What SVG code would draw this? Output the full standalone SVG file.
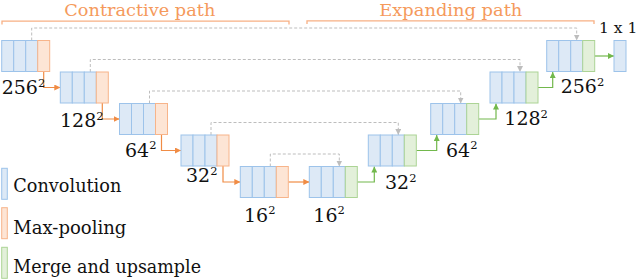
<svg xmlns="http://www.w3.org/2000/svg" width="640" height="280" viewBox="0 0 640 280">
<defs>
<style>
.b{fill:#dde9f6;stroke:#9dc3ea;stroke-width:1}
.o{fill:#fde5d5;stroke:#f7b48a;stroke-width:1}
.g{fill:#e3f0da;stroke:#acd495;stroke-width:1}
text{font-family:'DejaVu Serif','Liberation Serif',serif}
.t{font-size:19px;fill:#111}
.l{font-size:19px;fill:#111}
.s{font-size:11.5px}
.ti{font-size:17px;fill:#f59a5c}
.br{fill:none;stroke:#f7b084;stroke-width:1.3}
.ao{fill:none;stroke:#f08c45;stroke-width:1.2;marker-end:url(#mo)}
.ag{fill:none;stroke:#72b84c;stroke-width:1.2;marker-end:url(#mg)}
.ad{fill:none;stroke:#bdbdbd;stroke-width:1;stroke-dasharray:3 2;marker-end:url(#md)}
</style>
<marker id="mo" viewBox="0 0 6 6" refX="6" refY="3" markerWidth="6" markerHeight="6" markerUnits="userSpaceOnUse" orient="auto"><path d="M0,0 L6,3 L0,6 Z" fill="#f08c45"/></marker>
<marker id="mg" viewBox="0 0 6 6" refX="6" refY="3" markerWidth="6" markerHeight="6" markerUnits="userSpaceOnUse" orient="auto"><path d="M0,0 L6,3 L0,6 Z" fill="#72b84c"/></marker>
<marker id="md" viewBox="0 0 6 6" refX="6" refY="3" markerWidth="6" markerHeight="6" markerUnits="userSpaceOnUse" orient="auto"><path d="M0,0 L6,3 L0,6 Z" fill="#bdbdbd"/></marker>
</defs>

<g id="titles">
<text class="ti" x="64.3" y="16" textLength="151" lengthAdjust="spacingAndGlyphs">Contractive path</text>
<path class="br" d="M2,24.5 V21.2 H289 V24.5"/>
<text class="ti" x="379.3" y="16" textLength="143" lengthAdjust="spacingAndGlyphs">Expanding path</text>
<path class="br" d="M307,24 V20.8 H594 V24"/>
</g>

<g id="connectors">
<path class="ad" d="M31.7,40.5 V28 H576.7 V40.5"/>
<path class="ad" d="M90.3,72 V59.5 H520 V72"/>
<path class="ad" d="M149.5,103.5 V91 H460.7 V103.5"/>
<path class="ad" d="M211,135 V122.5 H398.3 V135"/>
<path class="ad" d="M270.3,166.5 V154 H339.3 V166.5"/>
<path class="ao" d="M43.7,71.5 V87.5 H60.3"/>
<path class="ao" d="M102.3,103 V119 H119.5"/>
<path class="ao" d="M161.5,134.5 V150.5 H181"/>
<path class="ao" d="M223,166 V182 H240.3"/>
<path class="ao" d="M288.3,182 H309.3"/>
<path class="ag" d="M357.3,182 H374.3 V166.5"/>
<path class="ag" d="M416.3,150.5 H436.7 V135"/>
<path class="ag" d="M478.7,119 H496 V103.5"/>
<path class="ag" d="M538,87.5 H552.7 V72"/>
<path class="ag" d="M594.7,56 H614"/>
</g>

<g id="c1"><rect class="b" x="1.7" y="40.5" width="12" height="31"/><rect class="b" x="13.7" y="40.5" width="12" height="31"/><rect class="b" x="25.7" y="40.5" width="12" height="31"/><rect class="o" x="37.7" y="40.5" width="12" height="31"/>
<text class="t" x="1.7" y="94.3">256<tspan class="s" dy="-7.5">2</tspan></text></g>
<g id="c2"><rect class="b" x="60.3" y="72" width="12" height="31"/><rect class="b" x="72.3" y="72" width="12" height="31"/><rect class="b" x="84.3" y="72" width="12" height="31"/><rect class="o" x="96.3" y="72" width="12" height="31"/>
<text class="t" x="60" y="127.3">128<tspan class="s" dy="-7.5">2</tspan></text></g>
<g id="c3"><rect class="b" x="119.5" y="103.5" width="12" height="31"/><rect class="b" x="131.5" y="103.5" width="12" height="31"/><rect class="b" x="143.5" y="103.5" width="12" height="31"/><rect class="o" x="155.5" y="103.5" width="12" height="31"/>
<text class="t" x="125" y="156.7">64<tspan class="s" dy="-7.5">2</tspan></text></g>
<g id="c4"><rect class="b" x="181" y="135" width="12" height="31"/><rect class="b" x="193" y="135" width="12" height="31"/><rect class="b" x="205" y="135" width="12" height="31"/><rect class="o" x="217" y="135" width="12" height="31"/>
<text class="t" x="186" y="182.3">32<tspan class="s" dy="-7.5">2</tspan></text></g>
<g id="c5"><rect class="b" x="240.3" y="166.5" width="12" height="31"/><rect class="b" x="252.3" y="166.5" width="12" height="31"/><rect class="b" x="264.3" y="166.5" width="12" height="31"/><rect class="o" x="276.3" y="166.5" width="12" height="31"/>
<text class="t" x="244" y="221.5">16<tspan class="s" dy="-7.5">2</tspan></text></g>

<g id="e5"><rect class="b" x="309.3" y="166.5" width="12" height="31"/><rect class="b" x="321.3" y="166.5" width="12" height="31"/><rect class="b" x="333.3" y="166.5" width="12" height="31"/><rect class="g" x="345.3" y="166.5" width="12" height="31"/>
<text class="t" x="313.3" y="221.5">16<tspan class="s" dy="-7.5">2</tspan></text></g>
<g id="e4"><rect class="b" x="368.3" y="135" width="12" height="31"/><rect class="b" x="380.3" y="135" width="12" height="31"/><rect class="b" x="392.3" y="135" width="12" height="31"/><rect class="g" x="404.3" y="135" width="12" height="31"/>
<text class="t" x="385" y="189">32<tspan class="s" dy="-7.5">2</tspan></text></g>
<g id="e3"><rect class="b" x="430.7" y="103.5" width="12" height="31"/><rect class="b" x="442.7" y="103.5" width="12" height="31"/><rect class="b" x="454.7" y="103.5" width="12" height="31"/><rect class="g" x="466.7" y="103.5" width="12" height="31"/>
<text class="t" x="446" y="156.7">64<tspan class="s" dy="-7.5">2</tspan></text></g>
<g id="e2"><rect class="b" x="490" y="72" width="12" height="31"/><rect class="b" x="502" y="72" width="12" height="31"/><rect class="b" x="514" y="72" width="12" height="31"/><rect class="g" x="526" y="72" width="12" height="31"/>
<text class="t" x="504.3" y="125">128<tspan class="s" dy="-7.5">2</tspan></text></g>
<g id="e1"><rect class="b" x="546.7" y="40.5" width="12" height="31"/><rect class="b" x="558.7" y="40.5" width="12" height="31"/><rect class="b" x="570.7" y="40.5" width="12" height="31"/><rect class="g" x="582.7" y="40.5" width="12" height="31"/>
<text class="t" x="560.7" y="93.3">256<tspan class="s" dy="-7.5">2</tspan></text></g>
<g id="out"><rect class="b" x="614" y="40.5" width="12" height="31"/>
<text class="t" x="599" y="33.3" font-size="15.5px" style="font-size:15.5px">1 x 1</text></g>

<g id="legend">
<rect class="b" x="1.7" y="168.3" width="5.6" height="31"/>
<text class="l" x="13.3" y="192.3" textLength="108" lengthAdjust="spacingAndGlyphs">Convolution</text>
<rect class="o" x="1.7" y="207.7" width="5.6" height="31"/>
<text class="l" x="13.3" y="233.5" textLength="113" lengthAdjust="spacingAndGlyphs">Max-pooling</text>
<rect class="g" x="1.7" y="247.3" width="5.6" height="31"/>
<text class="l" x="13.3" y="273.3" textLength="187.7" lengthAdjust="spacingAndGlyphs">Merge and upsample</text>
</g>
</svg>
